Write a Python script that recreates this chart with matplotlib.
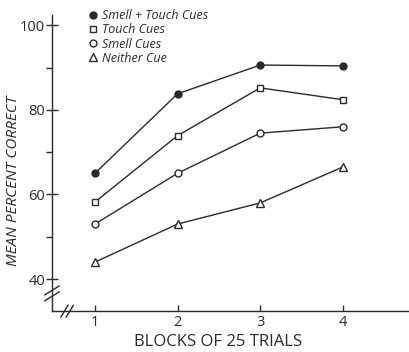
import matplotlib.pyplot as plt

blocks = [1, 2, 3, 4]
smell_touch = [65.0, 83.8, 90.6, 90.4]
touch = [58.2, 73.9, 85.2, 82.4]
smell = [53.0, 65.0, 74.5, 76.0]
neither = [44.0, 53.0, 58.0, 66.5]
labels = ['Smell + Touch Cues', 'Touch Cues', 'Smell Cues', 'Neither Cue']

ink = '#2a2a2a'
plt.rcParams['font.family'] = ['Open Sans', 'DejaVu Sans']

fig = plt.figure(figsize=(4.09, 3.52), dpi=100)
ax = fig.add_axes([0.127, 0.116, 0.873, 0.841])

ax.plot(blocks, smell_touch, color=ink, lw=1, marker='o', ms=5, mfc=ink, mec=ink, label=labels[0])
ax.plot(blocks, touch, color=ink, lw=1, marker='s', ms=4.5, mfc='white', mec=ink, label=labels[1])
ax.plot(blocks, smell, color=ink, lw=1, marker='o', ms=5, mfc='white', mec=ink, label=labels[2])
ax.plot(blocks, neither, color=ink, lw=1, marker='^', ms=5.5, mfc='white', mec=ink, label=labels[3])

ax.set_xlim(0.48, 4.8)
ax.set_ylim(32.4, 102.4)
ax.set_xticks(blocks)
ax.set_yticks([40, 60, 80, 100])
ax.set_yticks([50, 70, 90], minor=True)
ax.tick_params(axis='y', which='major', direction='inout', length=8, width=1, colors=ink, labelsize=10.5, pad=1)
ax.tick_params(axis='y', which='minor', direction='out', length=4, width=1, colors=ink)
ax.tick_params(axis='x', which='major', direction='in', length=4, width=1, colors=ink, labelsize=10.5, pad=3)

for s in ['top', 'right']:
    ax.spines[s].set_visible(False)
for s in ['left', 'bottom']:
    ax.spines[s].set_color(ink)
    ax.spines[s].set_linewidth(1)

ax.set_xlabel('BLOCKS OF 25 TRIALS', fontsize=12, color=ink)
ax.set_ylabel('MEAN PERCENT CORRECT', fontsize=11, color=ink, style='italic')
ax.xaxis.set_label_coords(0.465, -0.105, transform=ax.transAxes)
ax.yaxis.set_label_coords(-0.108, 0.44, transform=ax.transAxes)
ax.xaxis.label.set_va('center')
ax.yaxis.label.set_va('center')

# axis break marks
tr = ax.transAxes
ax.plot([-0.02, 0.02], [0.055, 0.085], color=ink, lw=1, transform=tr, clip_on=False)
ax.plot([-0.02, 0.02], [0.035, 0.065], color=ink, lw=1, transform=tr, clip_on=False)
ax.plot([0.025, 0.045], [-0.02, 0.02], color=ink, lw=1, transform=tr, clip_on=False)
ax.plot([0.040, 0.060], [-0.02, 0.02], color=ink, lw=1, transform=tr, clip_on=False)

leg = ax.legend(loc='upper left', bbox_to_anchor=(0.08, 1.05), frameon=False,
                prop={'style': 'italic', 'size': 9}, handlelength=0.6,
                handletextpad=0.4, labelspacing=0.1, borderpad=0.2)
for h in leg.legend_handles:
    h.set_linestyle('none')
for t in leg.get_texts():
    t.set_color(ink)

fig.savefig('out.png', dpi=100)
